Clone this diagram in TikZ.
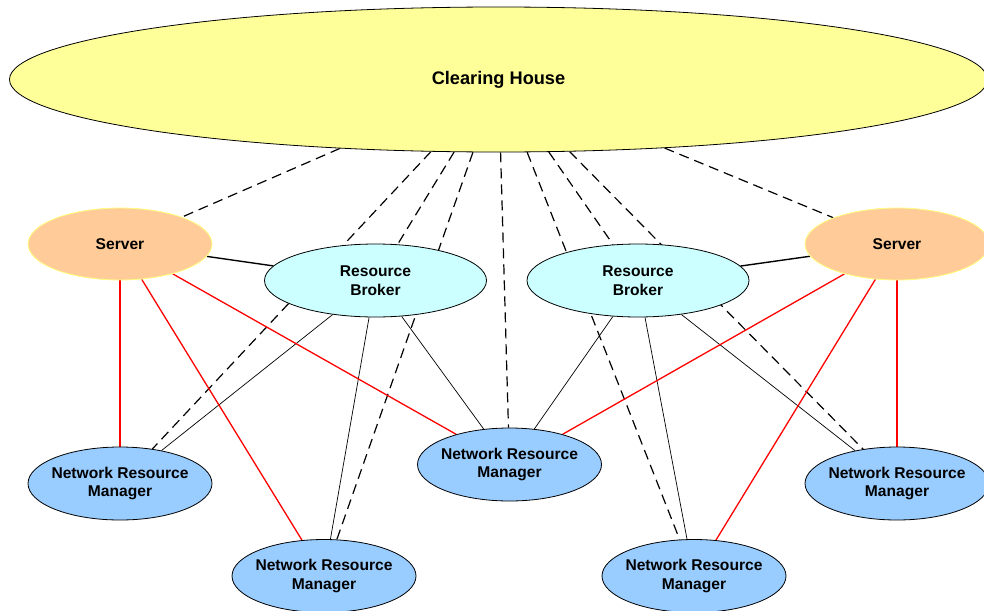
\documentclass[tikz,border=0pt]{standalone}
\usepackage{fontspec}
\setmainfont{Liberation Sans}
\usetikzlibrary{shapes.geometric,backgrounds}
\definecolor{chfill}{HTML}{FFFF99}
\definecolor{srvfill}{HTML}{FFCC99}
\definecolor{srvborder}{HTML}{FFFF80}
\definecolor{rbfill}{HTML}{CCFFFF}
\definecolor{nrmfill}{HTML}{99CCFF}
\definecolor{linkred}{HTML}{FF0000}
\begin{document}
\begin{tikzpicture}[x=1pt,y=-1pt,
 ell/.style={ellipse, draw=black, line width=0.8pt, inner sep=0pt},
 lbl/.style={font=\fontsize{15.6}{18.6}\selectfont\bfseries, align=center, inner sep=0pt},
 biglbl/.style={font=\fontsize{18.2}{21}\selectfont\bfseries, inner sep=0pt},
 ch/.style={ell, fill=chfill, minimum width=978pt, minimum height=145pt},
 srv/.style={ell, draw=srvborder, fill=srvfill, minimum width=184pt, minimum height=72pt},
 rb/.style={ell, fill=rbfill, minimum width=222pt, minimum height=73pt},
 nrm/.style={ell, fill=nrmfill, minimum width=184pt, minimum height=73pt},
 dashline/.style={draw=black, line width=1.2pt, dash pattern=on 10pt off 6pt},
 thinline/.style={draw=black, line width=0.7pt},
 linkline/.style={draw=black, line width=1.4pt},
 redline/.style={draw=linkred, line width=1.3pt},
]
\useasboundingbox (0,0) rectangle (984,610);

\node[ch, label={[biglbl, name=cht]center:{Clearing House}}] (ch) at (498.5,79.5) {};

\node[srv, label={[lbl, name=srvlt]center:{Server}}] (srvl) at (120,244) {};
\node[srv, label={[lbl, name=srvrt]center:{Server}}] (srvr) at (897,244) {};

\node[rb, label={[lbl, name=rblt]center:{Resource\\Broker}}] (rbl) at (375.5,280.5) {};
\node[rb, label={[lbl, name=rbrt]center:{Resource\\Broker}}] (rbr) at (638,280.5) {};

\node[nrm, label={[lbl, name=nrmlt]center:{Network Resource\\Manager}}] (nrml) at (120,483.5) {};
\node[nrm, label={[lbl, name=nrmct]center:{Network Resource\\Manager}}] (nrmc) at (509.5,464.5) {};
\node[nrm, label={[lbl, name=nrmrt]center:{Network Resource\\Manager}}] (nrmr) at (897,483.5) {};
\node[nrm, label={[lbl, name=nrmblt]center:{Network Resource\\Manager}}] (nrmbl) at (324,576) {};
\node[nrm, label={[lbl, name=nrmbrt]center:{Network Resource\\Manager}}] (nrmbr) at (694,576) {};

\begin{scope}[on background layer]
  % dashed links from the clearing house
  \draw[dashline] (ch) -- (srvl);
  \draw[dashline] (ch) -- (nrml);
  \draw[dashline] (ch) -- (rbl);
  \draw[dashline] (ch) -- (nrmbl);
  \draw[dashline] (ch) -- (nrmc);
  \draw[dashline] (ch) -- (nrmbr);
  \draw[dashline] (ch) -- (rbr);
  \draw[dashline] (ch) -- (nrmr);
  \draw[dashline] (ch) -- (srvr);
  % server to broker
  \draw[linkline] (srvl) -- (rbl);
  \draw[linkline] (srvr) -- (rbr);
  % broker to managers
  \draw[thinline] (rbl) -- (nrml);
  \draw[thinline] (rbl) -- (nrmbl);
  \draw[thinline] (rbl) -- (nrmc);
  \draw[thinline] (rbr) -- (nrmc);
  \draw[thinline] (rbr) -- (nrmbr);
  \draw[thinline] (rbr) -- (nrmr);
  % server to managers
  \draw[redline] (srvl) -- (nrml);
  \draw[redline] (srvl) -- (nrmbl);
  \draw[redline] (srvl) -- (nrmc);
  \draw[redline] (srvr) -- (nrmr);
  \draw[redline] (srvr) -- (nrmbr);
  \draw[redline] (srvr) -- (nrmc);
\end{scope}
\end{tikzpicture}
\end{document}
